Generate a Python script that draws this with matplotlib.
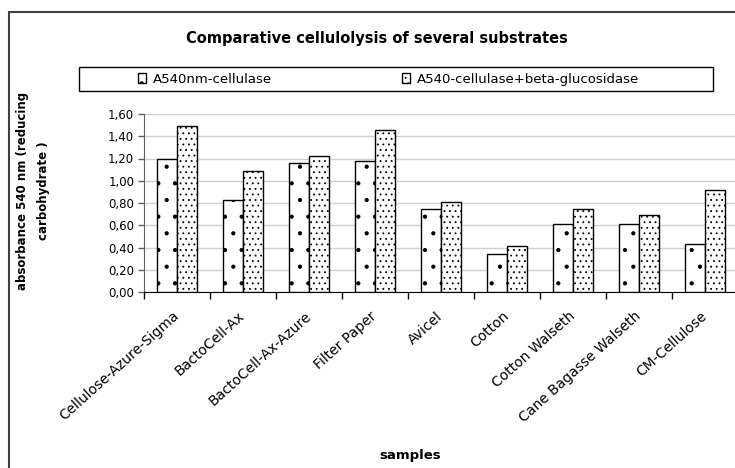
import numpy as np
import matplotlib
matplotlib.use("Agg")
from matplotlib import pyplot as plt
from matplotlib.patches import Rectangle
from matplotlib.ticker import FuncFormatter
from matplotlib.transforms import ScaledTranslation

samples = ["Cellulose-Azure-Sigma", "BactoCell-Ax", "BactoCell-Ax-Azure", "Filter Paper",
           "Avicel", "Cotton", "Cotton Walseth", "Cane Bagasse Walseth", "CM-Cellulose"]
cellulase = [1.20, 0.83, 1.16, 1.18, 0.75, 0.34, 0.61, 0.61, 0.43]
cellulase_bgluc = [1.49, 1.09, 1.22, 1.46, 0.81, 0.41, 0.75, 0.69, 0.92]
series_names = ["A540nm-cellulase", "A540-cellulase+beta-glucosidase"]
y_ticks = [0.0, 0.2, 0.4, 0.6, 0.8, 1.0, 1.2, 1.4, 1.6]

plt.rcParams['font.family'] = ['DejaVu Sans']
plt.rcParams['hatch.linewidth'] = 0.6
plt.rcParams['hatch.color'] = '#303030'

W, H = 735, 468
fig = plt.figure(figsize=(W / 100, H / 100), dpi=100)

# plot area in pixel terms of the reference
ax = fig.add_axes([144 / W, 1 - 292 / H, 594 / W, 178 / H])

x = np.arange(len(samples))
bw = 0.3
b1 = ax.bar(x - bw / 2, cellulase, bw, facecolor="white", edgecolor="black",
            linewidth=1, hatch=".", zorder=3)
b2 = ax.bar(x + bw / 2, cellulase_bgluc, bw, facecolor="white", edgecolor="black",
            linewidth=1, hatch="...", zorder=3)

ax.set_xlim(-0.5, len(samples) - 0.5)
ax.set_ylim(0, 1.6)
ax.set_yticks(y_ticks)
ax.yaxis.set_major_formatter(FuncFormatter(lambda v, p: f"{v:.2f}".replace(".", ",")))
ax.yaxis.grid(True, color="#d0d0d0", linewidth=1)
ax.set_axisbelow(True)

ax.set_xticks(x)
ax.set_xticklabels(samples, rotation=42, ha="right", va="center", rotation_mode="anchor")
shift = ScaledTranslation(-7 / 100, 0, fig.dpi_scale_trans)
for lab in ax.get_xticklabels():
    lab.set_transform(lab.get_transform() + shift)
ax.set_xticks(np.arange(-0.5, len(samples), 1), minor=True)
ax.tick_params(axis="x", which="major", length=0, pad=16, labelsize=10)
ax.tick_params(axis="x", which="minor", length=5, width=1, color="black", direction="out")
ax.tick_params(axis="y", length=4, width=1, color="#606060", labelsize=8.5, pad=3)

for s in ["top", "right"]:
    ax.spines[s].set_visible(False)
ax.spines["left"].set_color("#606060")
ax.spines["bottom"].set_color("black")

fig.text(377 / W, 1 - 38 / H, "Comparative cellulolysis of several substrates",
         ha="center", va="center", fontsize=10.5, fontweight="bold")
fig.text(33 / W, 1 - 191 / H, "absorbance 540 nm (reducing\ncarbohydrate )",
         rotation=90, ha="center", va="center", multialignment="center",
         fontsize=8.5, fontweight="bold", linespacing=1.7)
fig.text(410 / W, 1 - 456 / H, "samples", ha="center", va="center",
         fontsize=9.5, fontweight="bold")

# legend box
fig.add_artist(Rectangle((79 / W, 1 - 91 / H), (713 - 79) / W, 24 / H,
                         transform=fig.transFigure, fill=False,
                         edgecolor="black", linewidth=1))
fig.legend([b1, b2], series_names, loc="center left",
           bbox_to_anchor=(138 / W, 1 - 79 / H), ncol=2, frameon=False,
           fontsize=9.5, handlelength=0.6, handleheight=0.7, handletextpad=0.5,
           columnspacing=9.9, borderpad=0, borderaxespad=0)

# outer chart frame (cut at right and bottom)
fig.add_artist(Rectangle((9 / W, -0.1), 1.2, (1 - 12 / H) + 0.1,
                         transform=fig.transFigure, fill=False,
                         edgecolor="#404040", linewidth=1.5))

fig.savefig("out.png", dpi=100)
